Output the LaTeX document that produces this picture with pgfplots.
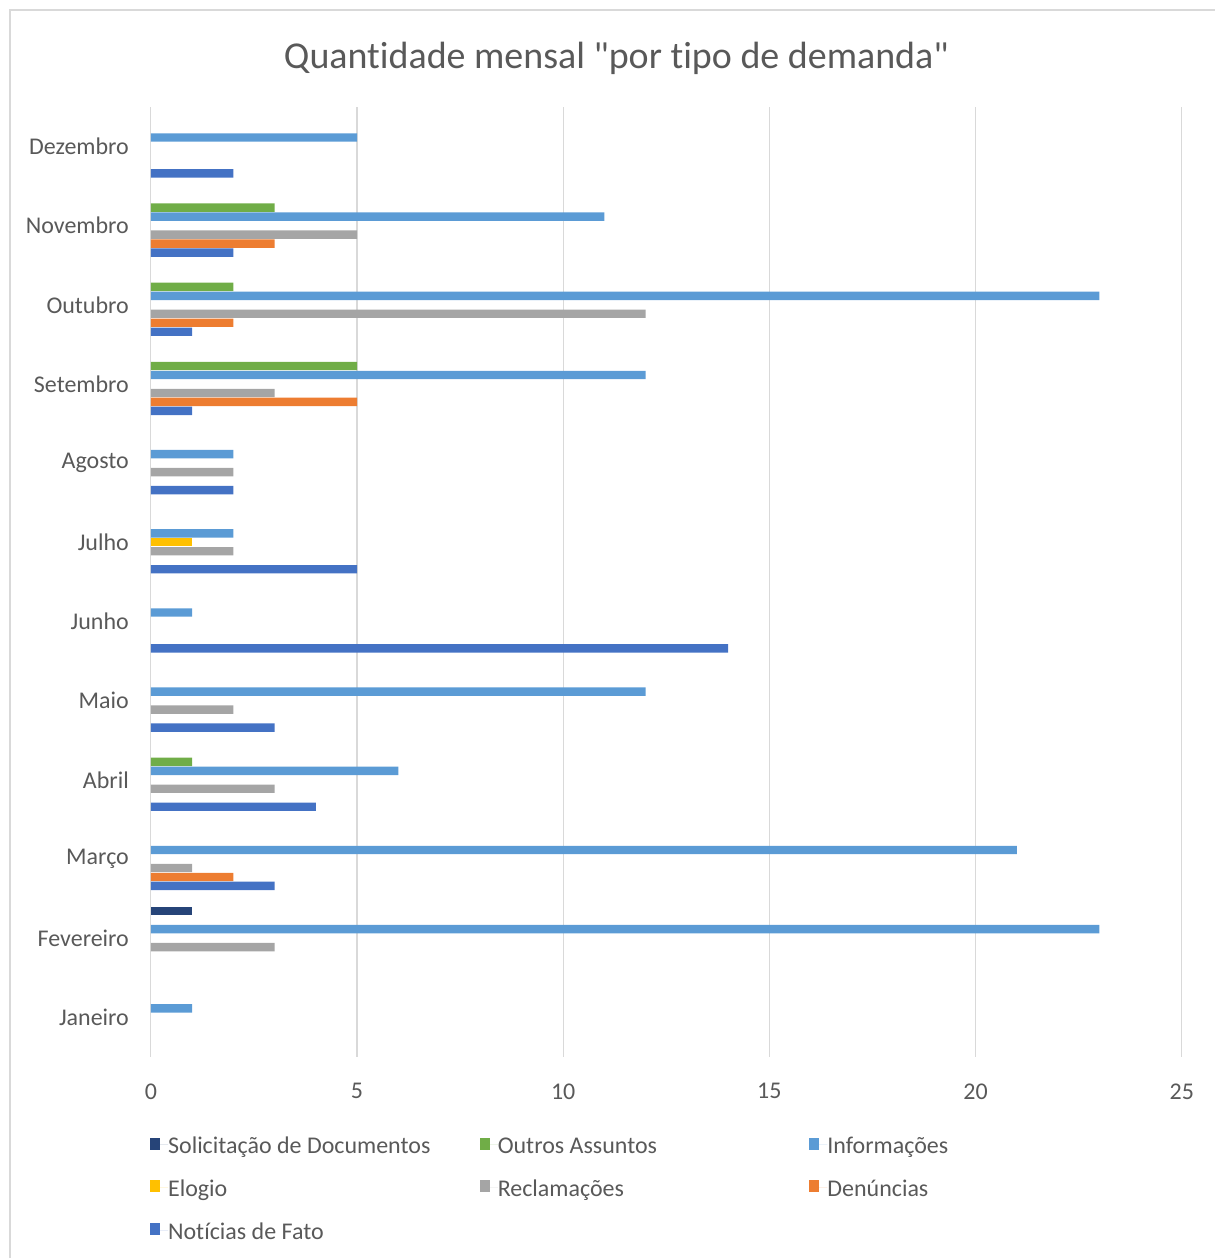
\documentclass[border=0pt]{standalone}
\usepackage{fontspec}
\setmainfont{Carlito}[Ligatures={TeX,NoCommon}]
\usepackage{pgfplots}
\pgfplotsset{compat=1.18}
\definecolor{cNot}{HTML}{4472C4}
\definecolor{cDen}{HTML}{ED7D31}
\definecolor{cRec}{HTML}{A5A5A5}
\definecolor{cElo}{HTML}{FFC000}
\definecolor{cInf}{HTML}{5B9BD5}
\definecolor{cOut}{HTML}{70AD47}
\definecolor{cSol}{HTML}{264478}
\definecolor{txt}{HTML}{595959}
\definecolor{grd}{HTML}{D9D9D9}
\newcommand{\legtxt}[1]{\makebox[234pt][l]{\rule[-5pt]{0pt}{20pt}#1}}
\begin{document}
\begin{tikzpicture}[x=1pt,y=1pt]
\path (-113.25,-150.75) rectangle (798.75,793.5);
\draw[grd, line width=1.5pt] (-105.75,-151) -- (-105.75,786) -- (799,786);
\begin{axis}[
  at={(0,0)}, anchor=south west,
  scale only axis, width=774pt, height=713.25pt,
  xbar, bar width=6.3pt,
  xmin=0, xmax=25, ymin=-0.5, ymax=11.5,
  xtick={0,5,10,15,20,25},
  ytick={0,...,11},
  yticklabels={Janeiro,Fevereiro,Março,Abril,Maio,Junho,Julho,Agosto,Setembro,Outubro,Novembro,Dezembro},
  xmajorgrids, ymajorgrids=false,
  grid style={grd, line width=0.9pt},
  axis line style={draw=none},
  major tick length=0pt,
  /pgf/number format/assume math mode=true,
  ticklabel style={font=\fontsize{18}{21}\selectfont, text=txt},
  yticklabel style={xshift=-13pt},
  xticklabel style={yshift=-16.5pt},
  legend columns=3,
  legend cell align=left,
  legend style={at={(-0.0048,-0.078)}, anchor=north west, draw=none, fill=none,
    font=\fontsize{18}{21}\selectfont, text=txt,
    nodes={inner sep=0pt}, row sep=15.5pt, column sep=0pt},
  legend image code/.code={\path (0pt,0pt) -- (13.5pt,0pt); \fill[#1,draw=none] (0pt,-3.5pt) rectangle (7.5pt,5.5pt);},
]
\addplot[fill=cSol, draw=none, bar shift=20.25pt] coordinates {(1,1)};
\addplot[fill=cOut, draw=none, bar shift=13.5pt] coordinates {(1,3) (5,8) (2,9) (3,10)};
\addplot[fill=cInf, draw=none, bar shift=6.75pt] coordinates {(1,0) (23,1) (21,2) (6,3) (12,4) (1,5) (2,6) (2,7) (12,8) (23,9) (11,10) (5,11)};
\addplot[fill=cElo, draw=none, bar shift=0pt] coordinates {(1,6)};
\addplot[fill=cRec, draw=none, bar shift=-6.75pt] coordinates {(3,1) (1,2) (3,3) (2,4) (2,6) (2,7) (3,8) (12,9) (5,10)};
\addplot[fill=cDen, draw=none, bar shift=-13.5pt] coordinates {(2,2) (5,8) (2,9) (3,10)};
\addplot[fill=cNot, draw=none, bar shift=-20.25pt] coordinates {(3,2) (4,3) (3,4) (14,5) (5,6) (2,7) (1,8) (1,9) (2,10) (2,11)};
\legend{\legtxt{Solicitação de Documentos},\legtxt{Outros Assuntos},\legtxt{Informações},\legtxt{Elogio},\legtxt{Reclamações},\legtxt{Denúncias},\legtxt{Notícias de Fato}}
\end{axis}
\node[text=txt, font=\fontsize{28.5}{34}\selectfont] at (349.5,750) {Quantidade mensal \textquotedbl por tipo de demanda\textquotedbl};
\end{tikzpicture}
\end{document}
